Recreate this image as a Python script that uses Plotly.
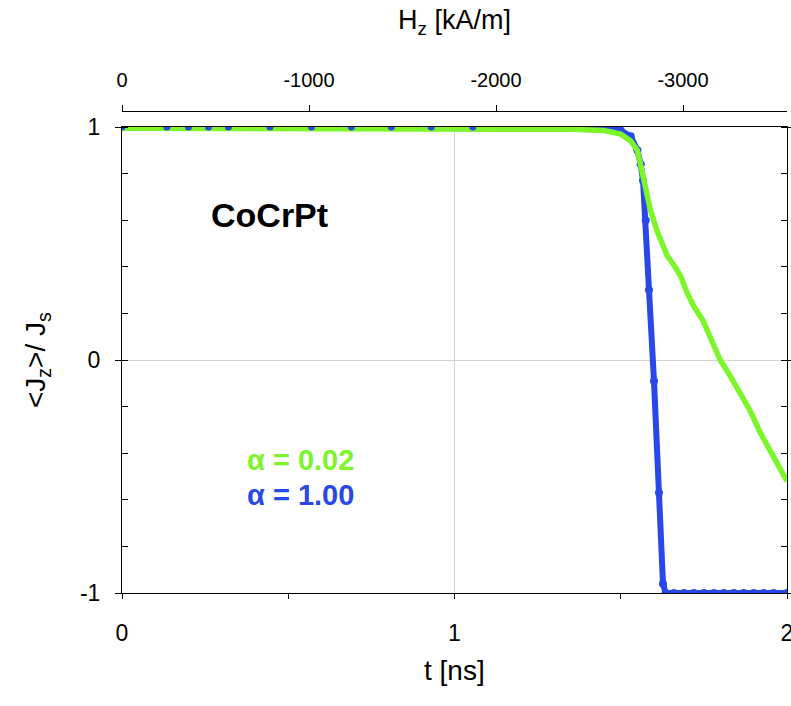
import plotly.graph_objects as go

# ---- data ----
t_blue = [0.0, 0.135, 0.2, 0.26, 0.32, 0.445, 0.57, 0.69, 0.81, 0.93, 1.055, 1.1, 1.2, 1.3,
          1.4, 1.45, 1.5, 1.53, 1.55, 1.56, 1.567, 1.575, 1.585, 1.6, 1.615, 1.627, 1.635,
          1.66, 1.69, 1.72, 1.75, 1.78, 1.81, 1.84, 1.87, 1.9, 1.93, 1.96, 2.0]
j_blue = [1.0, 1.0, 1.0, 1.0, 1.0, 1.0, 1.0, 1.0, 1.0, 1.0, 1.0, 1.0, 1.0, 1.0,
          0.998, 0.995, 0.985, 0.96, 0.9, 0.84, 0.77, 0.6, 0.3, -0.09, -0.57, -0.96, -1.0,
          -1.0, -1.0, -1.0, -1.0, -1.0, -1.0, -1.0, -1.0, -1.0, -1.0, -1.0, -1.0]

t_green = [0.0, 0.2, 0.4, 0.6, 0.8, 1.0, 1.2, 1.35, 1.45, 1.5, 1.53, 1.55, 1.567, 1.588,
           1.61, 1.639, 1.663, 1.68, 1.699, 1.72, 1.747, 1.77, 1.799, 1.83, 1.859, 1.89,
           1.919, 1.95, 1.975, 2.0]
j_green = [0.995, 0.995, 0.995, 0.995, 0.995, 0.995, 0.993, 0.99, 0.985, 0.97, 0.94, 0.9,
           0.79, 0.65, 0.55, 0.45, 0.40, 0.36, 0.29, 0.23, 0.17, 0.09, 0.0, -0.07, -0.14,
           -0.22, -0.31, -0.39, -0.45, -0.52]

x_ticks = [0, 1, 2]
x_ticklabels = ["0", "1", "2"]
y_ticks = [-1, 0, 1]
y_ticklabels = ["-1", "0", "1"]
h_ticks = [0, -1000, -2000, -3000]
h_ticklabels = ["0", "-1000", "-2000", "-3000"]
h_range = [0, -3556]

GREEN = "#7CF52A"
BLUE = "#2848E8"
FONT = "Liberation Sans, Arial, sans-serif"

# sparse blue dots visible along the top plateau
t_blue_dots = [t for t in t_blue if t < 1.06]
j_blue_dots = [j for t, j in zip(t_blue, j_blue) if t < 1.06]

fig = go.Figure()
fig.add_trace(go.Scatter(x=t_blue, y=j_blue, mode="lines+markers",
                         line=dict(color=BLUE, width=6), marker=dict(color=BLUE, size=8),
                         showlegend=False, hoverinfo="skip"))
fig.add_trace(go.Scatter(x=t_green, y=j_green, mode="lines",
                         line=dict(color=GREEN, width=5.5), showlegend=False, hoverinfo="skip"))
fig.add_trace(go.Scatter(x=t_blue_dots, y=j_blue_dots, mode="markers",
                         marker=dict(color=BLUE, size=7), showlegend=False, hoverinfo="skip"))
# invisible trace to activate the top axis
fig.add_trace(go.Scatter(x=h_range, y=[1, 1], xaxis="x2", mode="lines",
                         line=dict(width=0), showlegend=False, hoverinfo="skip", opacity=0))

fig.update_layout(
    width=791, height=706,
    margin=dict(l=122, r=4, t=111, b=113, autoexpand=False),
    paper_bgcolor="white", plot_bgcolor="white",
    font=dict(family=FONT, size=20, color="black"),
    xaxis=dict(range=[0, 2], tickvals=x_ticks, ticktext=x_ticklabels, automargin=False,
               ticklabeloverflow="allow",
               showline=True, linecolor="black", linewidth=1, mirror=True,
               ticks="outside", ticklen=5, tickcolor="black",
               minor=dict(dtick=0.5, ticks="outside", ticklen=5, tickcolor="black", showgrid=False),
               showgrid=True, gridcolor="#d4d4d4", gridwidth=1, zeroline=False,
               ticklabelstandoff=14, tickfont=dict(size=23)),
    xaxis2=dict(range=h_range, overlaying="x", side="top", anchor="free", position=1,
                tickvals=h_ticks, ticktext=h_ticklabels, automargin=False,
                ticklabeloverflow="allow",
                showline=True, linecolor="black", linewidth=1,
                ticks="outside", ticklen=6, tickcolor="black",
                showgrid=False, zeroline=False, ticklabelstandoff=10,
                tickfont=dict(size=20)),
    yaxis=dict(range=[-1, 1], domain=[0, 466 / 482], tickvals=y_ticks, ticktext=y_ticklabels,
               automargin=False,
               showline=True, linecolor="black", linewidth=1, mirror="allticks",
               ticks="outside", ticklen=6, tickcolor="black",
               minor=dict(dtick=0.2, ticks="inside", ticklen=5, tickcolor="black", showgrid=False),
               showgrid=True, gridcolor="#d4d4d4", gridwidth=1, zeroline=False,
               ticklabelstandoff=10, tickfont=dict(size=23)),
)

fig.add_annotation(x=0.5, y=-0.16, xref="paper", yref="paper", text="t [ns]",
                   showarrow=False, font=dict(size=28), xanchor="center", yanchor="middle")
fig.add_annotation(x=0.5, y=1.185, xref="paper", yref="paper", text="H<sub>z</sub> [kA/m]",
                   showarrow=False, font=dict(size=27), xanchor="center", yanchor="middle")
fig.add_annotation(x=-0.128, y=0.483, xref="paper", yref="paper",
                   text="&lt;J<sub>z</sub>&gt;/ J<sub>s</sub>", textangle=-90,
                   showarrow=False, font=dict(size=28), xanchor="center", yanchor="middle")

fig.add_annotation(x=0.445, y=0.624, xref="x", yref="y", text="<b>CoCrPt</b>",
                   showarrow=False, font=dict(size=34), xanchor="center", yanchor="middle")
fig.add_annotation(x=0.536, y=-0.43, xref="x", yref="y", text="<b>α = 0.02</b>",
                   showarrow=False, font=dict(size=29, color=GREEN), xanchor="center", yanchor="middle")
fig.add_annotation(x=0.536, y=-0.58, xref="x", yref="y", text="<b>α = 1.00</b>",
                   showarrow=False, font=dict(size=29, color=BLUE), xanchor="center", yanchor="middle")

fig.write_html("out.html")
